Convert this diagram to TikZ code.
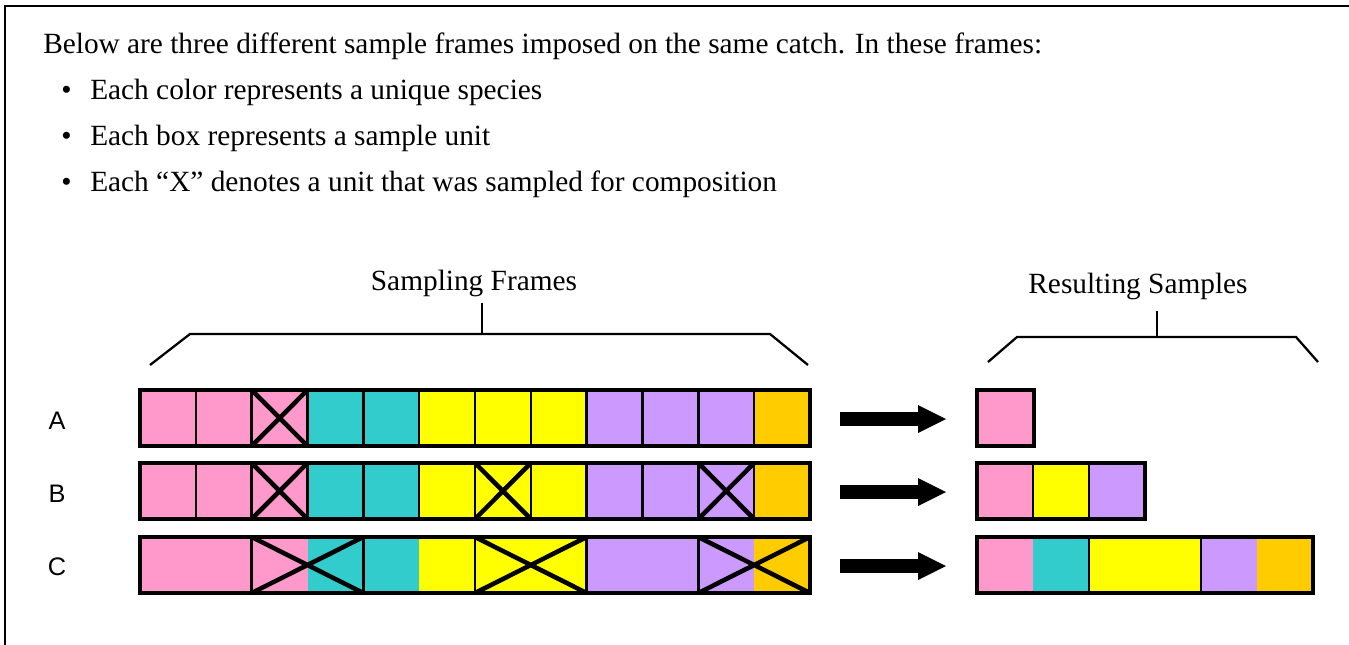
\documentclass[tikz,border=0pt]{standalone}
\usepackage{fontspec}
\setmainfont{Liberation Serif}
\newfontfamily\labfont{Liberation Sans}
\usetikzlibrary{calc}
\definecolor{cpink}{HTML}{FF99CC}
\definecolor{cteal}{HTML}{33CCCC}
\definecolor{cyel}{HTML}{FFFF00}
\definecolor{cvio}{HTML}{CC99FF}
\definecolor{corg}{HTML}{FFCC00}
\tikzset{
  txt/.style={anchor=base west, inner sep=0pt, font=\fontsize{22}{26}\selectfont},
  ttl/.style={anchor=base, inner sep=0pt, font=\fontsize{22}{26}\selectfont},
  rowlab/.style={inner sep=0pt, font=\labfont\fontsize{19}{22}\selectfont},
  divline/.style={line width=1.9pt},
  outline/.style={line width=2.4pt},
  xline/.style={line width=3.4pt},
  brack/.style={line width=1.7pt},
  blockarrow/.style={fill=black},
}
\begin{document}
\begin{tikzpicture}[x=0.75pt,y=-0.75pt]
\useasboundingbox (0,0) rectangle (1349,644);
% outer frame (only left and top visible)
\draw[line width=2.2pt] (1360,6) -- (5,6) -- (5,660);

% intro text
\node[txt] (intro) at (43,53) {Below are three different sample frames imposed on the same catch. In these frames:};
\node[txt] (d1) at (61,99) {\textbullet};
\node[txt] (t1) at (90,99) {Each color represents a unique species};
\node[txt] (d2) at (61,145) {\textbullet};
\node[txt] (t2) at (90,145) {Each box represents a sample unit};
\node[txt] (d3) at (61,191) {\textbullet};
\node[txt] (t3) at (90,191) {Each “X” denotes a unit that was sampled for composition};

% titles and brackets
\node[ttl] (sf) at (474,290) {Sampling Frames};
\coordinate (sfa) at (150,365);
\coordinate (sfb) at (190,334);
\coordinate (sfc) at (770,334);
\coordinate (sfd) at (808,365);
\coordinate (sfm) at (482,334);
\coordinate (sft) at (482,303);
\draw[brack] (sfa) -- (sfb) -- (sfc) -- (sfd);
\draw[brack] (sfm) -- (sft);

\node[ttl] (rs) at (1138,293) {Resulting Samples};
\coordinate (rsa) at (988,362);
\coordinate (rsb) at (1017,337);
\coordinate (rsc) at (1296,337);
\coordinate (rsd) at (1318,362);
\coordinate (rsm) at (1157,337);
\coordinate (rst) at (1157,311);
\draw[brack] (rsa) -- (rsb) -- (rsc) -- (rsd);
\draw[brack] (rsm) -- (rst);

% row labels
\node[rowlab] (la) at (57,421) {A};
\node[rowlab] (lb) at (57,494) {B};
\node[rowlab] (lc) at (57,567) {C};

\def\w{55.833}
% ---- Row A ----
\foreach \c [count=\i from 0] in {cpink,cpink,cpink,cteal,cteal,cyel,cyel,cyel,cvio,cvio,cvio,corg}
  \fill[\c] ({140+\i*\w},390) rectangle ++(\w,56);
\foreach \i in {1,...,11}
  \draw[divline] ({140+\i*\w},390) -- ++(0,56);
\foreach \i in {2}
  \draw[xline] ({140+\i*\w},390) -- ++(\w,56) ({140+\i*\w},446) -- ++(\w,-56);
\draw[outline] (140,390) rectangle (810,446);

% ---- Row B ----
\foreach \c [count=\i from 0] in {cpink,cpink,cpink,cteal,cteal,cyel,cyel,cyel,cvio,cvio,cvio,corg}
  \fill[\c] ({140+\i*\w},463) rectangle ++(\w,56);
\foreach \i in {1,...,11}
  \draw[divline] ({140+\i*\w},463) -- ++(0,56);
\foreach \i in {2,6,10}
  \draw[xline] ({140+\i*\w},463) -- ++(\w,56) ({140+\i*\w},519) -- ++(\w,-56);
\draw[outline] (140,463) rectangle (810,519);

% ---- Row C ----
\foreach \c [count=\i from 0] in {cpink,cpink,cpink,cteal,cteal,cyel,cyel,cyel,cvio,cvio,cvio,corg}
  \fill[\c] ({140+\i*\w},537) rectangle ++(\w,56);
\foreach \i in {2,4,6,8,10}
  \draw[divline] ({140+\i*\w},537) -- ++(0,56);
\foreach \i in {2,6,10}
  \draw[xline] ({140+\i*\w},537) -- ++({2*\w},56) ({140+\i*\w},593) -- ++({2*\w},-56);
\draw[outline] (140,537) rectangle (810,593);

% ---- arrows ----
\foreach \yy/\nm in {419/aa,492/ab,566/ac}{
  \coordinate (\nm s) at (840,\yy);
  \coordinate (\nm e) at (946,\yy);
  \fill[blockarrow] ($(\nm s)+(0,-6.8)$) -- (918,\yy-6.8) -- (918,\yy-14) -- (\nm e) -- (918,\yy+14) -- (918,\yy+6.8) -- ($(\nm s)+(0,6.8)$) -- cycle;
}

% ---- Results ----
% A
\fill[cpink] (977,390) rectangle (1034,446);
\draw[outline] (977,390) rectangle (1034,446);
% B
\fill[cpink] (977,463) rectangle (1033,519);
\fill[cyel] (1033,463) rectangle (1089,519);
\fill[cvio] (1089,463) rectangle (1145,519);
\draw[divline] (1033,463) -- (1033,519) (1089,463) -- (1089,519);
\draw[outline] (977,463) rectangle (1145,519);
% C
\fill[cpink] (977,537) rectangle (1033,593);
\fill[cteal] (1033,537) rectangle (1089,593);
\fill[cyel] (1089,537) rectangle (1201,593);
\fill[cvio] (1201,537) rectangle (1257,593);
\fill[corg] (1257,537) rectangle (1313,593);
\draw[divline] (1089,537) -- (1089,593) (1201,537) -- (1201,593);
\draw[outline] (977,537) rectangle (1313,593);
\end{tikzpicture}
\end{document}
